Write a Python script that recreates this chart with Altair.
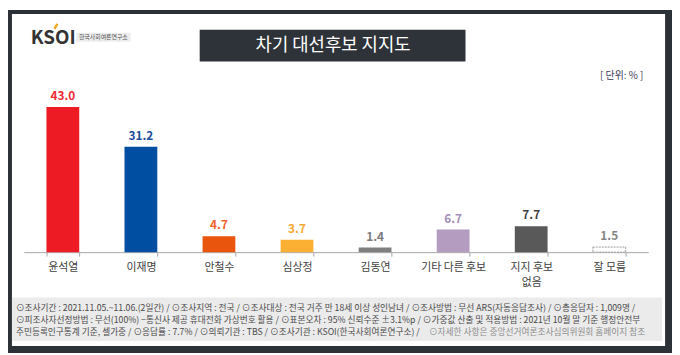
import altair as alt
import pandas as pd

# ---------------- data ----------------
categories = ["윤석열", "이재명", "안철수", "심상정", "김동연", "기타 다른 후보", "지지 후보 없음", "잘 모름"]
values = [43.0, 31.2, 4.7, 3.7, 1.4, 6.7, 7.7, 1.5]
bar_colors = ["#ed1c24", "#004ea2", "#e9550c", "#fbb034", "#7f7f7f", "#b49cc0", "#595959", "#ffffff"]
label_colors = ["#ee2a36", "#1d4f9e", "#f0602a", "#f7a830", "#7b7b7b", "#a48fba", "#3f3f3f", "#858585"]

title_text = "차기 대선후보 지지도"
unit_text = "[ 단위: % ]"
logo_text = "KSOI"
org_text = "한국사회여론연구소"
footer_line1 = "⊙조사기간 : 2021.11.05.~11.06.(2일간)  / ⊙조사지역 : 전국 / ⊙조사대상 : 전국 거주 만 18세 이상 성인남녀 / ⊙조사방법 : 무선 ARS(자동응답조사) / ⊙총응답자 : 1,009명 /"
footer_line2 = "⊙피조사자선정방법 : 무선(100%) −통신사 제공 휴대전화 가상번호 활용 / ⊙표본오차 : 95% 신뢰수준 ±3.1%p / ⊙가중값 산출 및 적용방법 : 2021년 10월 말 기준 행정안전부"
footer_line3a = "주민등록인구통계 기준, 셀가중 / ⊙응답률 : 7.7% / ⊙의뢰기관 : TBS / ⊙조사기관 : KSOI(한국사회여론연구소) /"
footer_line3b = "⊙자세한 사항은 중앙선거여론조사심의위원회 홈페이지 참조"

FONT = "Noto Sans CJK KR"

df = pd.DataFrame({
    "cat": categories,
    "value": values,
    "bar_color": bar_colors,
    "label_color": label_colors,
})

W, H = 672, 245  # plot area: full canvas width, baseline at y=245

x_enc = alt.X(
    "cat:N",
    sort=categories,
    scale=alt.Scale(domain=categories, range=[16, 648], paddingInner=0.58, paddingOuter=0.29),
    axis=alt.Axis(
        title=None, labelAngle=0, labelFont=FONT, labelFontSize=11, labelColor="#404040",
        labelPadding=6, labelLineHeight=15, domainColor="#a6a6a6", tickColor="#a6a6a6", tickSize=4,
        tickBand="extent", grid=False,
        labelExpr="datum.label == '지지 후보 없음' ? ['지지 후보', '없음'] : datum.label",
    ),
)
y_enc = alt.Y("value:Q", axis=None, scale=alt.Scale(domain=[0, 71.66], nice=False, zero=True))


def box(x1, x2, y1, y2, color):
    return alt.Chart(pd.DataFrame({"k": [0]})).mark_rect(color=color).encode(
        x=alt.value(x1), x2=alt.value(x2), y=alt.value(y1), y2=alt.value(y2)
    )


def label(text, x, y, size, color, align="left", weight="normal", baseline="middle"):
    return alt.Chart(pd.DataFrame({"t": [text]})).mark_text(
        font=FONT, fontSize=size, color=color, align=align, baseline=baseline, fontWeight=weight
    ).encode(x=alt.value(x), y=alt.value(y), text="t:N")


# frame and backgrounds
frame = [
    box(0, 672, 0, 4, "#2b3137"),
    box(0, 4, 0, 347, "#2b3137"),
    box(665, 672, 0, 347, "#2b3137"),
    box(0, 672, 340, 347, "#2b3137"),
    box(4, 662, 291, 335, "#ebebeb"),
]

# bars
bars = alt.Chart(df).transform_filter(alt.datum.cat != "잘 모름").mark_bar().encode(
    x=x_enc, y=y_enc, color=alt.Color("bar_color:N", scale=None)
)
dk_bar = alt.Chart(df).transform_filter(alt.datum.cat == "잘 모름").mark_bar(
    color="#ffffff", stroke="#9a9a9a", strokeWidth=1, strokeDash=[2, 1]
).encode(x=x_enc, y=y_enc)

values_text = alt.Chart(df).mark_text(
    font=FONT, fontSize=12, fontWeight="bold", baseline="middle", dy=-11
).encode(
    x=x_enc, y=y_enc, text=alt.Text("value:Q", format=".1f"),
    color=alt.Color("label_color:N", scale=None),
)

# header
title_box = box(194, 463, 20, 52, "#2d3339")
title = label(title_text, 329, 36.5, 18, "#ffffff", align="center")
logo = label(logo_text, 23, 28, 19, "#333333", weight="bold")
accent = alt.Chart(pd.DataFrame({"k": [0]})).mark_rule(color="#f5a623", strokeWidth=2.5).encode(
    x=alt.value(47), x2=alt.value(50), y=alt.value(19), y2=alt.value(14)
)
org_box = box(69, 124, 23, 32, "#ececec")
org = label(org_text, 96.5, 27.5, 6, "#555555", align="center")
unit = label(unit_text, 643, 67, 10, "#3d3a5c", align="right")

# footer
FS = 8.8
f1 = label(footer_line1, 8, 301.5, FS, "#4a4a4a")
f2 = label(footer_line2, 8, 313.5, FS, "#4a4a4a")
f3a = label(footer_line3a, 8, 325.5, FS, "#4a4a4a")
f3b = label(footer_line3b, 426, 325.5, FS, "#8c8c8c")

chart = alt.layer(
    *frame, bars, dk_bar, values_text,
    title_box, title, logo, accent, org_box, org, unit,
    f1, f2, f3a, f3b,
).properties(
    width=W, height=H,
    padding={"left": 0, "top": 0, "right": 0, "bottom": 102},
    autosize=alt.AutoSizeParams(type="none"),
    background="#ffffff",
).configure_view(stroke=None)

chart.save("out.html", embed_options={"renderer": "svg", "actions": False})
